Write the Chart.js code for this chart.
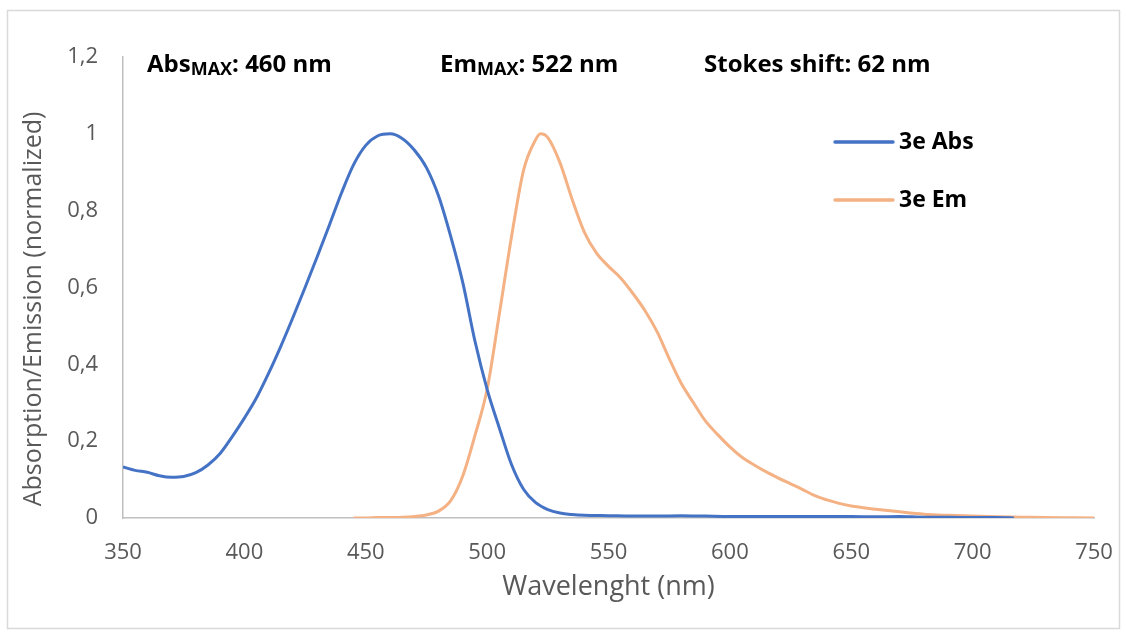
<!DOCTYPE html>
<html>
<head>
<meta charset="utf-8">
<script src="https://cdn.jsdelivr.net/npm/chart.js@4.4.0/dist/chart.umd.min.js"></script>
<style>
  html, body { margin: 0; padding: 0; background: #ffffff; }
  #wrap { width: 1126px; height: 633px; position: relative; }
</style>
</head>
<body>
<div id="wrap"><canvas id="c" width="1126" height="633"></canvas></div>
<script>
// ---------- data ----------
const absWavelengths = [350,355,360,365,370,375,380,385,390,395,400,405,410,415,420,425,430,435,440,445,450,455,460,465,470,475,480,485,490,495,500,505,510,515,520,525,530,535,540,550,560,570,580,590,600,610,620,630,640,650,660,670,680,690,700,710,717];
const absValues      = [0.133,0.124,0.119,0.110,0.106,0.108,0.118,0.138,0.168,0.212,0.260,0.313,0.377,0.447,0.522,0.600,0.680,0.762,0.846,0.920,0.970,0.995,1.000,0.988,0.958,0.912,0.838,0.733,0.612,0.460,0.335,0.235,0.140,0.075,0.040,0.022,0.013,0.009,0.007,0.006,0.005,0.005,0.006,0.005,0.004,0.004,0.004,0.004,0.004,0.004,0.003,0.004,0.002,0.002,0.001,0.001,0.000];

const emWavelengths  = [445,450,455,460,465,470,475,480,485,490,495,500,505,510,515,520,522,525,530,535,540,545,550,555,560,565,570,575,580,585,590,595,600,605,610,615,620,625,630,635,640,645,650,660,670,680,690,700,710,720,730,740,750];
const emValues       = [0,0,0.001,0.001,0.002,0.004,0.008,0.018,0.045,0.110,0.215,0.335,0.530,0.730,0.905,0.985,1.000,0.990,0.925,0.830,0.745,0.690,0.655,0.625,0.585,0.540,0.485,0.415,0.350,0.300,0.252,0.217,0.185,0.158,0.138,0.120,0.104,0.089,0.074,0.058,0.047,0.038,0.031,0.023,0.016,0.010,0.007,0.005,0.003,0.002,0.001,0.0005,0];

const seriesNames  = ['3e Abs', '3e Em'];
const seriesColors = ['#4472C4', '#F4B183'];
const xTickValues  = [350,400,450,500,550,600,650,700,750];
const yTickLabels  = ['0','0,2','0,4','0,6','0,8','1','1,2'];
const xTitle = 'Wavelenght (nm)';
const yTitle = 'Absorption/Emission (normalized)';
const noteMain = ['Abs', 'Em', 'Stokes shift: 62 nm'];
const noteSub  = ['MAX', 'MAX', ''];
const noteRest = [': 460 nm', ': 522 nm', ''];

// ---------- build chart ----------
const FONT = "'Open Sans', 'DejaVu Sans', sans-serif";
const GREY = '#595959';

function toPoints(xs, ys) { return xs.map((x, i) => ({ x: x, y: ys[i] })); }

const framePlugin = {
  id: 'frame',
  beforeDraw(chart) {
    const ctx = chart.ctx;
    ctx.save();
    ctx.fillStyle = '#ffffff';
    ctx.fillRect(0, 0, chart.width, chart.height);
    ctx.strokeStyle = '#d9d9d9';
    ctx.lineWidth = 1.5;
    ctx.strokeRect(7.5, 10.5, 1112, 618);
    ctx.restore();
  }
};

const textPlugin = {
  id: 'texts',
  afterDraw(chart) {
    const ctx = chart.ctx;
    ctx.save();
    // y axis title
    ctx.translate(34, 309);
    ctx.rotate(-Math.PI / 2);
    ctx.font = '25px ' + FONT;
    ctx.fillStyle = GREY;
    ctx.textAlign = 'center';
    ctx.textBaseline = 'middle';
    ctx.fillText(yTitle, 0, 0);
    ctx.restore();

    // annotations above the plot
    const noteX = [147, 440, 704];
    const baseY = 72;
    ctx.save();
    ctx.fillStyle = '#000000';
    ctx.textAlign = 'left';
    ctx.textBaseline = 'alphabetic';
    noteMain.forEach((m, i) => {
      let x = noteX[i];
      ctx.font = 'bold 24px ' + FONT;
      ctx.fillText(m, x, baseY);
      x += ctx.measureText(m).width;
      if (noteSub[i]) {
        ctx.font = 'bold 18px ' + FONT;
        ctx.fillText(noteSub[i], x, baseY + 3);
        x += ctx.measureText(noteSub[i]).width;
      }
      if (noteRest[i]) {
        ctx.font = 'bold 24px ' + FONT;
        ctx.fillText(noteRest[i], x, baseY);
      }
    });
    ctx.restore();

    // legend
    ctx.save();
    chart.data.datasets.forEach((ds, i) => {
      const y = 142 + i * 58;
      ctx.strokeStyle = ds.borderColor;
      ctx.lineWidth = 3.5;
      ctx.lineCap = 'round';
      ctx.beginPath();
      ctx.moveTo(835, y);
      ctx.lineTo(893, y);
      ctx.stroke();
      ctx.fillStyle = '#000000';
      ctx.font = 'bold 23px ' + FONT;
      ctx.textAlign = 'left';
      ctx.textBaseline = 'middle';
      ctx.fillText(ds.label, 899, y);
    });
    ctx.restore();
  }
};

new Chart(document.getElementById('c'), {
  type: 'line',
  data: {
    datasets: [
      { label: seriesNames[0], data: toPoints(absWavelengths, absValues), borderColor: seriesColors[0],
        backgroundColor: seriesColors[0], borderWidth: 3, pointRadius: 0, cubicInterpolationMode: 'monotone', fill: false },
      { label: seriesNames[1], data: toPoints(emWavelengths, emValues), borderColor: seriesColors[1],
        backgroundColor: seriesColors[1], borderWidth: 3, pointRadius: 0, cubicInterpolationMode: 'monotone', fill: false }
    ]
  },
  options: {
    responsive: false,
    devicePixelRatio: 1,
    animation: false,
    layout: { padding: { left: 0, top: 57, right: 32, bottom: 29 } },
    plugins: { legend: { display: false }, tooltip: { enabled: false } },
    scales: {
      x: {
        type: 'linear', min: 350, max: 750,
        afterBuildTicks(scale) { scale.ticks = xTickValues.map(v => ({ value: v })); },
        afterFit(scale) { scale.height = 86; scale.paddingLeft = 0; scale.paddingRight = 0; },
        ticks: { font: { family: FONT, size: 22 }, color: GREY, padding: 22, maxRotation: 0 },
        grid: { display: false, drawTicks: false },
        border: { display: true, color: '#bfbfbf', width: 1.5 },
        title: { display: true, text: xTitle, color: GREY, font: { family: FONT, size: 27 }, padding: { top: 0, bottom: 0 } }
      },
      y: {
        type: 'linear', min: 0, max: 1.2,
        afterBuildTicks(scale) { scale.ticks = yTickLabels.map((t, i) => ({ value: i * 0.2 })); },
        afterFit(scale) { scale.width = 123; scale.paddingTop = 0; scale.paddingBottom = 0; },
        ticks: { font: { family: FONT, size: 22 }, color: GREY, padding: 25,
                 callback: (v, i) => yTickLabels[i] },
        grid: { display: false, drawTicks: false },
        border: { display: true, color: '#bfbfbf', width: 1.5 }
      }
    }
  },
  plugins: [framePlugin, textPlugin]
});
</script>
</body>
</html>
